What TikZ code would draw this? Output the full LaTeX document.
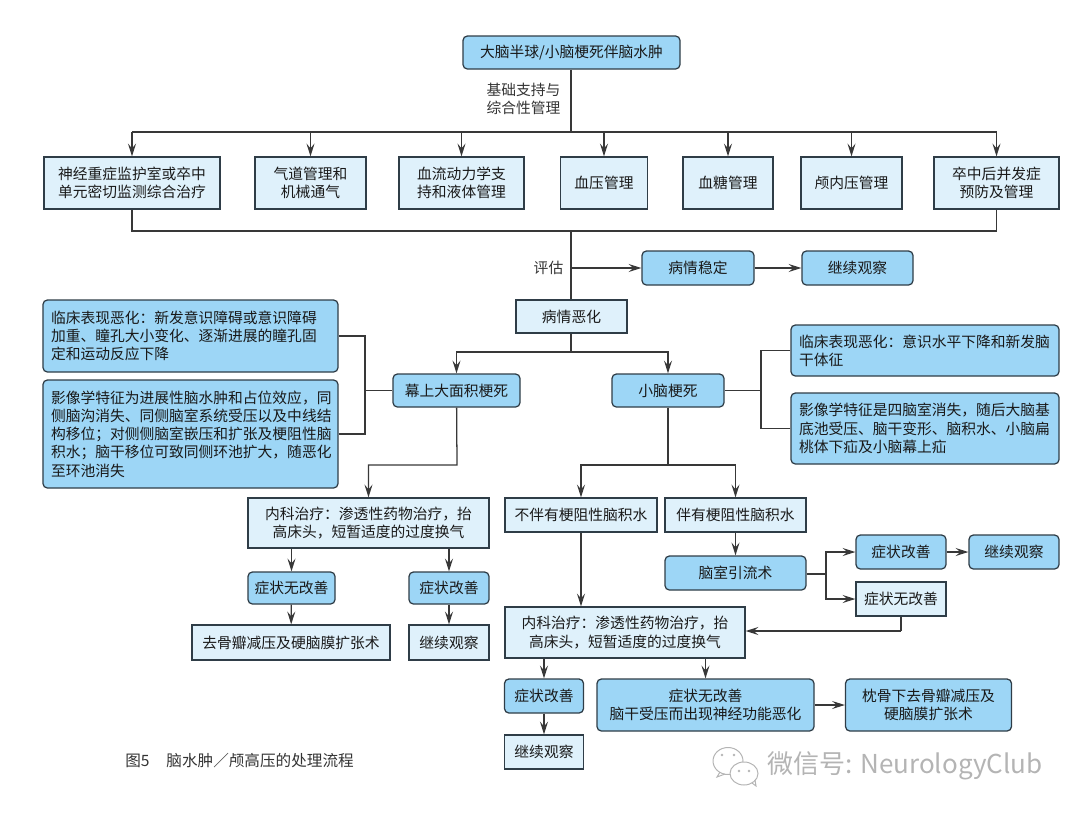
\documentclass[tikz,border=0pt]{standalone}
\usepackage{fontspec}
\setmainfont{Noto Sans CJK SC}
\usepackage{xcolor}
\usepackage{tikz}
\usetikzlibrary{arrows.meta}
\definecolor{darkfill}{HTML}{9DD6F6}
\definecolor{lightfill}{HTML}{DFF1FB}
\definecolor{edgecol}{HTML}{2F3D47}
\definecolor{linecol}{HTML}{383838}
\definecolor{wmarkcol}{HTML}{B4B4B4}
\tikzset{
  boxsize/.style 2 args={minimum width=#1*0.025cm, minimum height=#2*0.025cm},
  basebox/.style={draw=edgecol, line width=0.9pt, inner sep=0pt, align=center, text=black!90,
    font=\fontsize{10.5}{13}\selectfont},
  lightbox/.style={basebox, fill=lightfill},
  darkbox/.style={basebox, fill=darkfill, rounded corners=0.11cm},
  noteleft/.style={darkbox, align=left, text width=#1*0.025cm, inner xsep=0.2cm},
  plainlabel/.style={inner sep=0pt, align=left, text=black!80, font=\fontsize{10.5}{13}\selectfont},
  conn/.style={draw=linecol, line width=0.9pt},
  arr/.style={conn, -{Stealth[length=3.2mm, width=2mm, inset=1.2mm]}},
}
\begin{document}
\begin{tikzpicture}[x=0.025cm, y=-0.025cm]
      \useasboundingbox (0,0) rectangle (1080,817);
      % top and first row
      \node[darkbox, boxsize={217}{33}] (top) at (571.5,52.5) {大脑半球/小脑梗死伴脑水肿};
      \node[plainlabel] (support) at (523.5,99) {基础支持与\\综合性管理};
      \node[lightbox, boxsize={176}{52}] (monitor) at (132,183) {神经重症监护室或卒中\\单元密切监测综合治疗};
      \node[lightbox, boxsize={111}{52}] (airway) at (310.5,183) {气道管理和\\机械通气};
      \node[lightbox, boxsize={125}{52}] (fluid) at (461.5,183) {血流动力学支\\持和液体管理};
      \node[lightbox, boxsize={87}{52}] (bp) at (604,183) {血压管理};
      \node[lightbox, boxsize={90}{52}] (sugar) at (728,183) {血糖管理};
      \node[lightbox, boxsize={101}{52}] (icp) at (851.5,183) {颅内压管理};
      \node[lightbox, boxsize={125}{52}] (compl) at (996.5,183) {卒中后并发症\\预防及管理};
      \coordinate (busa) at (571,132);
      \coordinate (busb) at (571,231);
      \draw[conn] (top.south -| busa) -- (busa);
      \draw[conn] (busa -| monitor) -- (busa -| compl);
      \foreach \n in {monitor,airway,fluid,bp,sugar,icp,compl}
        \draw[arr] (busa -| \n) -- (\n);
      \draw[conn] (monitor) |- (busb) -| (compl);
      % assessment
      \node[plainlabel] (assess) at (548.5,268) {评估};
      \node[darkbox, boxsize={112}{34}] (stable) at (698,268) {病情稳定};
      \node[darkbox, boxsize={111}{34}] (watcha) at (857.5,268) {继续观察};
      \node[lightbox, boxsize={111}{33}] (worse) at (571.5,316.5) {病情恶化};
      \draw[conn] (busb) -- (busb |- worse.north);
      \coordinate (split) at (571,268);
      \draw[arr] (split) -- (stable);
      \draw[arr] (stable) -- (watcha);
      % two branches
      \node[darkbox, boxsize={127}{33}] (supra) at (456.5,390.5) {幕上大面积梗死};
      \node[darkbox, boxsize={112}{33}] (cereb) at (668,390.5) {小脑梗死};
      \coordinate (busc) at (571,352);
      \draw[conn] (worse.south -| busc) -- (busc);
      \draw[arr] (busc) -| (supra);
      \draw[arr] (busc) -| (cereb);
      % notes on the left
      \node[noteleft=279, boxsize={295}{72}] (clina) at (190.5,336) {临床表现恶化：新发意识障碍或意识障碍\\加重、瞳孔大小变化、逐渐进展的瞳孔固\\定和运动反应下降};
      \node[noteleft=279, boxsize={295}{108}] (imga) at (190.5,434) {影像学特征为进展性脑水肿和占位效应，同\\侧脑沟消失、同侧脑室系统受压以及中线结\\构移位；对侧侧脑室嵌压和扩张及梗阻性脑\\积水；脑干移位可致同侧环池扩大，随恶化\\至环池消失};
      \coordinate (joina) at (365,390.5);
      \draw[conn] (clina) -| (joina);
      \draw[conn] (imga) -| (joina);
      \draw[conn] (joina) -- (supra);
      % notes on the right
      \node[noteleft=252, boxsize={268}{51}] (clinb) at (925,350.5) {临床表现恶化：意识水平下降和新发脑\\干体征};
      \node[noteleft=252, boxsize={268}{71}] (imgb) at (925,428.5) {影像学特征是四脑室消失，随后大脑基\\底池受压、脑干变形、脑积水、小脑扁\\桃体下疝及小脑幕上疝};
      \coordinate (joinb) at (761,390.5);
      \draw[conn] (clinb) -| (joinb);
      \draw[conn] (imgb) -| (joinb);
      \draw[conn] (joinb) -- (cereb);
      % left branch
      \node[lightbox, boxsize={241}{50}] (meda) at (368.5,523) {内科治疗：渗透性药物治疗，抬\\高床头，短暂适度的过度换气};
      \node[darkbox, boxsize={87}{32}] (nogooda) at (291.5,588) {症状无改善};
      \node[darkbox, boxsize={80}{32}] (gooda) at (449,588) {症状改善};
      \node[lightbox, boxsize={198}{35}] (craniea) at (291,642.5) {去骨瓣减压及硬脑膜扩张术};
      \node[lightbox, boxsize={80}{35}] (watchb) at (449,642.5) {继续观察};
      \coordinate (busa2) at (457,465);
      \draw[arr] (supra) -- (busa2) -| (meda);
      \draw[arr] (meda.south -| nogooda) -- (nogooda);
      \draw[arr] (meda.south -| gooda) -- (gooda);
      \draw[arr] (nogooda) -- (craniea);
      \draw[arr] (gooda) -- (watchb);
      % right branch
      \node[lightbox, boxsize={152}{34}] (nohydro) at (581,515) {不伴有梗阻性脑积水};
      \node[lightbox, boxsize={141}{34}] (hydro) at (735.5,515) {伴有梗阻性脑积水};
      \node[darkbox, boxsize={141}{34}] (drain) at (735.5,573) {脑室引流术};
      \node[darkbox, boxsize={90}{34}] (goodb) at (901,552) {症状改善};
      \node[darkbox, boxsize={90}{34}] (watchc) at (1014,552) {继续观察};
      \node[lightbox, boxsize={90}{34}] (nogoodb) at (901,599) {症状无改善};
      \node[lightbox, boxsize={240}{51}] (medb) at (625,632.5) {内科治疗：渗透性药物治疗，抬\\高床头，短暂适度的过度换气};
      \coordinate (busd) at (668,465);
      \coordinate (forka) at (826,574);
      \coordinate (backa) at (901,631);
      \draw[conn] (cereb) -- (busd);
      \draw[arr] (busd) -| (nohydro);
      \draw[arr] (busd) -| (hydro);
      \draw[arr] (nohydro) -- (nohydro |- medb.north);
      \draw[arr] (hydro) -- (drain);
      \draw[conn] (drain.east |- forka) -- (forka);
      \draw[arr] (forka) |- (goodb);
      \draw[arr] (forka) |- (nogoodb);
      \draw[arr] (goodb) -- (watchc);
      \draw[conn] (nogoodb) -- (backa);
      \draw[arr] (backa) -- (medb.east |- backa);
      % bottom row
      \node[darkbox, boxsize={79}{34}] (goodc) at (544,696) {症状改善};
      \node[lightbox, boxsize={79}{34}] (watchd) at (544,752) {继续观察};
      \node[darkbox, boxsize={217}{52}] (nogoodc) at (705.5,705) {症状无改善\\脑干受压而出现神经功能恶化};
      \node[darkbox, boxsize={166}{52}] (cranieb) at (928.5,705) {枕骨下去骨瓣减压及\\硬脑膜扩张术};
      \draw[arr] (medb.south -| goodc) -- (goodc);
      \draw[arr] (goodc) -- (watchd);
      \draw[arr] (medb.south -| nogoodc) -- (nogoodc);
      \draw[arr] (nogoodc) -- (cranieb);
      % caption and watermark
      \node[plainlabel, anchor=west, font=\fontsize{11.1}{13}\selectfont] (caption) at (125,761) {图5\hspace{12pt}脑水肿／颅高压的处理流程};
      \node[anchor=west, inner sep=0pt, text=wmarkcol, font=\fontsize{18.5}{22}\selectfont] (wmark) at (767,766) {微信号: NeurologyClub};
      \draw[wmarkcol, line width=0.7pt, fill=white] (728,761) ellipse (15 and 13.5);
      \draw[wmarkcol, line width=0.7pt] (720,772) -- (717,777) -- (725,774);
      \draw[wmarkcol, line width=0.7pt, fill=white] (744,773.5) ellipse (14 and 11.5);
      \draw[wmarkcol, line width=0.7pt] (752,783) -- (756,786) -- (755,780);
      \fill[wmarkcol] (722,755) circle (1.3) (734,755) circle (1.3) (739,771) circle (1.3) (749,771) circle (1.3);
    \end{tikzpicture}
\end{document}
